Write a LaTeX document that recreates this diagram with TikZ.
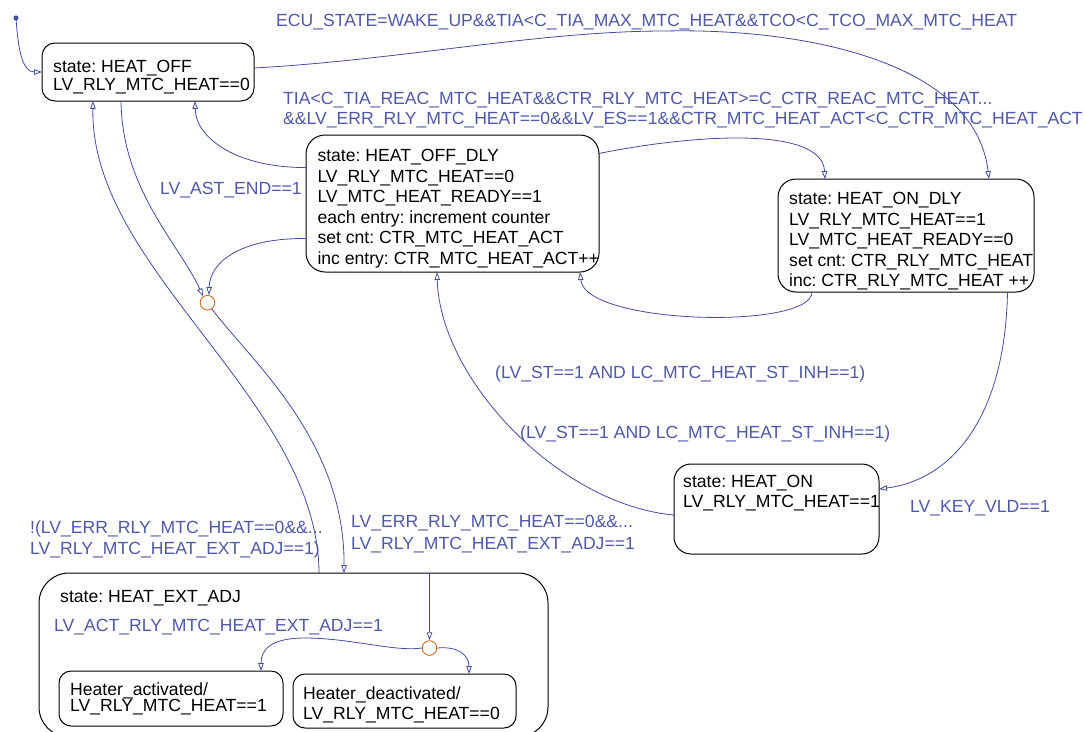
\documentclass[tikz,border=0pt]{standalone}
\usepackage{fontspec}
\setmainfont{Liberation Sans}
\usetikzlibrary{arrows.meta}
\definecolor{tcol}{RGB}{66,76,160}
\definecolor{gcol}{RGB}{78,88,168}
\definecolor{jcol}{RGB}{204,108,32}
\newcommand{\fsz}[1]{\fontsize{17.6}{#1}\selectfont\frenchspacing}

\begin{document}
\begin{tikzpicture}[x=1pt, y=-1pt, >={Triangle[open,length=8pt,width=5.5pt]},
		statebox/.style={draw, line width=1pt, inner sep=0pt, outer sep=0pt},
		statetext/.style={anchor=north west, inner sep=0pt, align=left, font=\fsz{20.5}},
		guard/.style={text=gcol, anchor=base west, inner sep=0pt, font=\fsz{21}},
		junction/.style={circle, draw=jcol, line width=0.9pt, inner sep=0pt, minimum size=14.6pt},
		trans/.style={draw=tcol, line width=0.8pt}]
		\useasboundingbox (0,0) rectangle (1084,731);

		% states
		\node[statebox, rounded corners=13, minimum width=212, minimum height=58] (heatoff) at (148,72) {};
		\node[statetext, font=\fsz{18.4}] (heatoff-txt) at (53,59.8) {state: HEAT\_OFF\\LV\_RLY\_MTC\_HEAT==0};
		\node[statebox, rounded corners=19, minimum width=293, minimum height=137] (heatoffdly) at (452.5,203.5) {};
		\node[statetext] (heatoffdly-txt) at (317.3,149.2) {state: HEAT\_OFF\_DLY\\LV\_RLY\_MTC\_HEAT==0\\LV\_MTC\_HEAT\_READY==1\\each entry: increment counter\\set cnt: CTR\_MTC\_HEAT\_ACT\\inc entry: CTR\_MTC\_HEAT\_ACT++};
		\node[statebox, rounded corners=18, minimum width=256, minimum height=113] (heatondly) at (906,235.5) {};
		\node[statetext] (heatondly-txt) at (789,192.5) {state: HEAT\_ON\_DLY\\LV\_RLY\_MTC\_HEAT==1\\LV\_MTC\_HEAT\_READY==0\\set cnt: CTR\_RLY\_MTC\_HEAT\\inc: CTR\_RLY\_MTC\_HEAT ++};
		\node[statebox, rounded corners=17, minimum width=205, minimum height=90] (heaton) at (776.5,509) {};
		\node[statetext, font=\fsz{20}] (heaton-txt) at (683,475.5) {state: HEAT\_ON\\LV\_RLY\_MTC\_HEAT==1};
		\node[statebox, rounded corners=30, minimum width=509, minimum height=164] (heatextadj) at (293.5,655) {};
		\node[statetext] (heatextadj-txt) at (60,590.5) {state: HEAT\_EXT\_ADJ};
		\node[statebox, rounded corners=12, minimum width=224, minimum height=55] (heateract) at (171,698.5) {};
		\node[statetext, font=\fsz{16}] (heateract-txt) at (70,682.5) {Heater\_activated/\\LV\_RLY\_MTC\_HEAT==1};
		\node[statebox, rounded corners=12, minimum width=223, minimum height=54] (heaterdeact) at (404.5,701) {};
		\node[statetext, font=\fsz{20}] (heaterdeact-txt) at (303,686.5) {Heater\_deactivated/\\LV\_RLY\_MTC\_HEAT==0};

		% junctions
		\node[junction] (j1) at (207.5,302.7) {};
		\node[junction] (j2) at (429.5,648) {};
		\coordinate (init) at (16,18);
		\fill[tcol] (init) circle (2.6);

		% transitions
		\draw[trans,->] (init) .. controls (18,48) and (22,72) .. (heatoff.west);
		\draw[trans,->] ([yshift=4]heatoff.east) .. controls (400,60) and (540,31) .. (665,31) .. controls (800,28) and (975,60) .. ([xshift=83]heatondly.north);
		\draw[trans,->] ([yshift=50]heatoffdly.east) .. controls (690,135) and (822,125) .. ([xshift=-81]heatondly.north);
		\draw[trans,->] ([yshift=36]heatoffdly.west) .. controls (240,168) and (196,140) .. ([xshift=47]heatoff.south);
		\draw[trans,->] ([yshift=-35]heatoffdly.west) .. controls (240,238) and (210,262) .. (j1.80);
		\draw[trans,->] ([xshift=-27]heatoff.south) .. controls (122,190) and (180,245) .. (j1.125);
		\draw[trans,->] (j1.-55) .. controls (250,360) and (345,440) .. ([xshift=50.5]heatextadj.north);
		\draw[trans,->] ([xshift=25.5]heatextadj.north) .. controls (318,400) and (90,270) .. ([xshift=-55]heatoff.south);
		\draw[trans,->] ([yshift=-6]heaton.west) .. controls (560,505) and (440,380) .. ([xshift=-15.5]heatoffdly.south);
		\draw[trans,->] ([xshift=-94]heatondly.south) .. controls (812,330) and (585,325) .. ([xshift=127.5]heatoffdly.south);
		\draw[trans,->] ([xshift=101.5]heatondly.south) .. controls (1005,420) and (950,480) .. ([yshift=20]heaton.east);
		\draw[trans,->] ([xshift=136]heatextadj.north) -- (j2.north);
		\draw[trans,->] (j2.west) .. controls (395,652) and (350,638) .. (305,638) .. controls (270,638) and (261,650) .. ([xshift=90]heateract.north);
		\draw[trans,->] (j2.east) .. controls (458,646) and (469,655) .. ([xshift=64.5]heaterdeact.north);

		% guards
		\node[guard] (g-wake) at (276,26) {ECU\_STATE=WAKE\_UP\&\&TIA<C\_TIA\_MAX\_MTC\_HEAT\&\&TCO<C\_TCO\_MAX\_MTC\_HEAT};
		\node[guard, anchor=north west, align=left, font=\fsz{20}] (g-reac) at (283,92.5) {TIA<C\_TIA\_REAC\_MTC\_HEAT\&\&CTR\_RLY\_MTC\_HEAT>=C\_CTR\_REAC\_MTC\_HEAT...\\\&\&LV\_ERR\_RLY\_MTC\_HEAT==0\&\&LV\_ES==1\&\&CTR\_MTC\_HEAT\_ACT<C\_CTR\_MTC\_HEAT\_ACT};
		\node[guard] (g-ast) at (160,194) {LV\_AST\_END==1};
		\node[guard] (g-st1) at (495,378) {(LV\_ST==1 AND LC\_MTC\_HEAT\_ST\_INH==1)};
		\node[guard] (g-st2) at (520,438) {(LV\_ST==1 AND LC\_MTC\_HEAT\_ST\_INH==1)};
		\node[guard] (g-key) at (910,512) {LV\_KEY\_VLD==1};
		\node[guard, anchor=north west, align=left, font=\fsz{21.5}] (g-noerr) at (30,520.5) {!(LV\_ERR\_RLY\_MTC\_HEAT==0\&\&...\\LV\_RLY\_MTC\_HEAT\_EXT\_ADJ==1)};
		\node[guard, anchor=north west, align=left, font=\fsz{21.5}] (g-err) at (351,515.5) {LV\_ERR\_RLY\_MTC\_HEAT==0\&\&...\\LV\_RLY\_MTC\_HEAT\_EXT\_ADJ==1};
		\node[guard] (g-act) at (54,631) {LV\_ACT\_RLY\_MTC\_HEAT\_EXT\_ADJ==1};
	\end{tikzpicture}
\end{document}
